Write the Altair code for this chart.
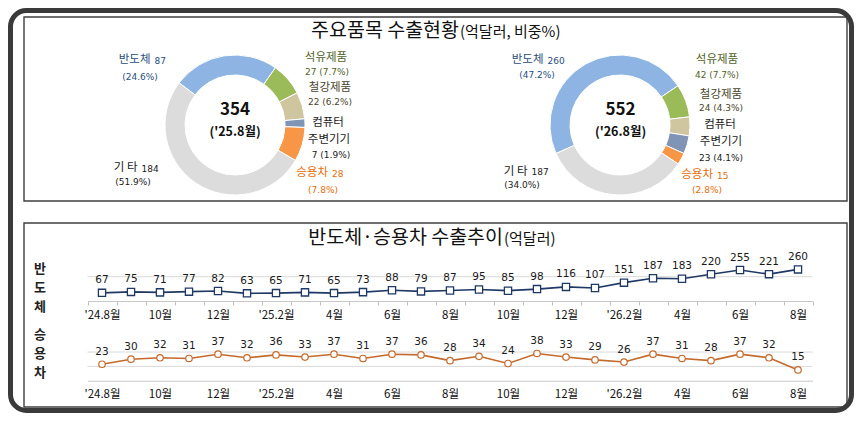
import json
import math

import altair as alt
import pandas as pd

KR = "Noto Sans CJK KR"
NUM = "DejaVu Sans"

# ---- donut data ----
items = ["반도체", "석유제품", "철강제품", "컴퓨터 주변기기", "승용차", "기 타"]
slice_colors = ["#8DB4E2", "#9BBB59", "#CFC6A0", "#8095B5", "#F79646", "#DCDCDC"]
text_colors = ["#284D80", "#4F6228", "#4A452A", "#1A1A1A", "#E46C0A", "#1A1A1A"]

vals_25 = [87, 27, 22, 7, 28, 184]
shares_25 = [24.6, 7.7, 6.2, 1.9, 7.8, 51.9]
vals_26 = [260, 42, 24, 23, 15, 187]
shares_26 = [47.2, 7.7, 4.3, 4.1, 2.8, 34.0]
totals = [354, 552]
periods = ["('25.8월)", "('26.8월)"]

# ---- monthly series ('24.8 ~ '26.8) ----
month_ticks = ["'24.8월", "", "10월", "", "12월", "", "'25.2월", "", "4월", "", "6월", "",
               "8월", "", "10월", "", "12월", "", "'26.2월", "", "4월", "", "6월", "", "8월"]
semi = [67, 75, 71, 77, 82, 63, 65, 71, 65, 73, 88, 79, 87,
        95, 85, 98, 116, 107, 151, 187, 183, 220, 255, 221, 260]
cars = [23, 30, 32, 31, 37, 32, 36, 33, 37, 31, 37, 36, 28,
        34, 24, 38, 33, 29, 26, 37, 31, 28, 37, 32, 15]

W, H = 846, 405
one = pd.DataFrame({"d": [0]})

# label anchors per item: style, x1, y1, x2, y2
lab_25 = [("inline", 144.5, 52, 132, 68.7), ("stack", 318, 50.3, 319, 63.7),
          ("stack", 322, 80.3, 322, 93.7), ("stack", 320, 115.3, 323, 147),
          ("inline", 322, 165.3, 315, 182), ("inline", 131.5, 160.3, 125, 173.7)]
lab_26 = [("inline", 537.5, 52, 529, 67), ("stack", 709, 52, 709, 67),
          ("stack", 713, 87, 713, 100), ("stack", 712, 117, 713, 149.7),
          ("inline", 707, 167, 699, 182), ("inline", 521.5, 163.7, 514, 177)]


def label_rows(vals, shares, layout):
    rows = []
    for name, v, s, c, (style, x1, y1, x2, y2) in zip(items, vals, shares, text_colors, layout):
        share = f"({s:.1f}%)"
        if style == "inline":
            rows.append(dict(t=name, x=x1 - 2, y=y1, c=c, k="name_r"))
            rows.append(dict(t=str(v), x=x1 + 2, y=y1 + 0.5, c=c, k="num_l"))
            rows.append(dict(t=share, x=x2, y=y2, c=c, k="num_c"))
        else:
            for j, w in enumerate(name.split()):
                rows.append(dict(t=w, x=x1 + j, y=y1 + 16.7 * j, c=c, k="name_c"))
            rows.append(dict(t=f"{v}  {share}", x=x2, y=y2, c=c, k="num_c"))
    return rows


labels = pd.DataFrame(label_rows(vals_25, shares_25, lab_25) + label_rows(vals_26, shares_26, lab_26))


def label_layer(kind, font, size, align):
    return alt.Chart(labels).transform_filter(alt.datum.k == kind).mark_text(
        font=font, fontSize=size, align=align, baseline="middle"
    ).encode(
        x=alt.X("x:Q", scale=None), y=alt.Y("y:Q", scale=None),
        text="t:N", color=alt.Color("c:N", scale=None)
    )


def donut(vals, cx, cy, start_deg):
    df = pd.DataFrame({"item": items, "v": vals, "o": list(range(len(items)))})
    a = math.radians(start_deg)
    return alt.Chart(df).mark_arc(radius=70, innerRadius=50, stroke="white", strokeWidth=1).encode(
        theta=alt.Theta("v:Q", stack=True, scale=alt.Scale(range=[a, a + 2 * math.pi])),
        color=alt.Color("item:N", scale=alt.Scale(domain=items, range=slice_colors), legend=None),
        order=alt.Order("o:Q"),
        x=alt.value(cx), y=alt.value(cy),
    )


def rect(x, x2, y, y2, **kw):
    return alt.Chart(one).mark_rect(**kw).encode(
        x=alt.value(x), x2=alt.value(x2), y=alt.value(y), y2=alt.value(y2))


def text(t, x, y, **kw):
    return alt.Chart(one).mark_text(text=t, **kw).encode(x=alt.value(x), y=alt.value(y))


def side_label(word, x, y0, step):
    df = pd.DataFrame({"ch": list(word), "y": [y0 + step * j for j in range(len(word))]})
    return alt.Chart(df).mark_text(font=KR, fontSize=13, fontWeight="bold", color="#222222").encode(
        x=alt.value(x), y=alt.Y("y:Q", scale=None), text="ch:N")


# ---- line panels ----
months = pd.DataFrame({"i": list(range(len(semi))), "semi": semi, "cars": cars})
tick_expr = json.dumps(month_ticks, ensure_ascii=False) + "[datum.value]"


def x_enc(offset, ticks):
    return alt.X(
        "i:O",
        scale=alt.Scale(type="band", domain=list(range(len(semi))), range=[79.5, 804.5],
                        paddingInner=0, paddingOuter=0),
        axis=alt.Axis(orient="bottom", offset=offset, title=None, labelExpr=tick_expr,
                      labelAngle=0, labelFont=KR, labelFontSize=11.5, labelColor="#111111",
                      labelOverlap=False, labelPadding=4 if ticks else 8, ticks=ticks,
                      tickBand="extent", tickSize=4, tickColor="#BFBFBF",
                      domainColor="#C8C8C8", grid=False, zindex=1),
    )


def line_panel(field, grid_vals, y_dom, y_rng, offset, ticks, line_color, mark):
    ys = alt.Scale(domain=y_dom, range=y_rng)
    xe = x_enc(offset, ticks)
    grid = alt.Chart(pd.DataFrame({"g": grid_vals})).mark_rule(color="#D9D9D9").encode(
        y=alt.Y("g:Q", scale=ys, axis=None), x=alt.value(79.5), x2=alt.value(804.5))
    base = alt.Chart(months).encode(x=xe, y=alt.Y(f"{field}:Q", scale=ys, axis=None))
    line = base.mark_line(color=line_color, strokeWidth=1.6)
    if mark == "square":
        pts = base.mark_square(size=52, fill="white", stroke=line_color, strokeWidth=1.3, opacity=1)
    else:
        pts = base.mark_circle(size=42, fill="white", stroke=line_color, strokeWidth=1.2, opacity=1)
    lbl = base.mark_text(dy=-12.5, font=NUM, fontSize=10.5, color="#1A1A1A").encode(text=f"{field}:Q")
    return alt.layer(grid, line, pts, lbl)


semi_panel = line_panel("semi", [200], [0, 400], [293, 244.4], 293 - H, True, "#1F3864", "square")
cars_panel = line_panel("cars", [20, 40], [0, 60], [372.7, 329.7], 372.7 - H, False, "#C46A2C", "circle")

centers = pd.DataFrame({"t": [str(v) for v in totals], "p": periods, "x": [227, 612.5]})
center_num = alt.Chart(centers).mark_text(font=KR, fontSize=17, fontWeight="bold", color="#111111").encode(
    x=alt.X("x:Q", scale=None), y=alt.value(102), text="t:N")
center_per = alt.Chart(centers).mark_text(font=KR, fontSize=12.5, fontWeight="bold", color="#111111").encode(
    x=alt.X("x:Q", scale=None), y=alt.value(124), text="p:N")

chart = alt.layer(
    rect(16, 839, 9, 193, fill="white", stroke="#3F3F3F", strokeWidth=1.4),
    rect(16, 839, 215, 399, fill="white", stroke="#3F3F3F", strokeWidth=1.4),
    rect(2.5, 843.5, 2.5, 402.5, fillOpacity=0, stroke="#3A3A3A", strokeWidth=5, cornerRadius=16),
    text("주요품목 수출현황", 451, 29, font=KR, fontSize=19.5, align="right", baseline="alphabetic", color="#111111"),
    text("(억달러, 비중%)", 452, 29, font=KR, fontSize=15, align="left", baseline="alphabetic", color="#111111"),
    text("반도체·승용차 수출추이", 495, 236, font=KR, fontSize=19.5, align="right", baseline="alphabetic", color="#111111"),
    text("(억달러)", 496, 236, font=KR, fontSize=15, align="left", baseline="alphabetic", color="#111111"),
    donut(vals_25, 227, 117, 307),
    donut(vals_26, 612, 117, 246),
    center_num,
    center_per,
    label_layer("name_r", KR, 11.5, "right"),
    label_layer("name_c", KR, 11.5, "center"),
    label_layer("num_l", NUM, 9, "left"),
    label_layer("num_c", NUM, 9, "center"),
    side_label("반도체", 32, 260.5, 19),
    side_label("승용차", 32, 327, 19),
    semi_panel,
    cars_panel,
).resolve_scale(
    x="independent", y="independent", theta="independent", color="independent"
).properties(
    width=W, height=H, padding=0, autosize=alt.AutoSizeParams(type="none"), background="white"
).configure_view(strokeWidth=0)

chart.save("out.html", embed_options={"renderer": "svg", "actions": False})
